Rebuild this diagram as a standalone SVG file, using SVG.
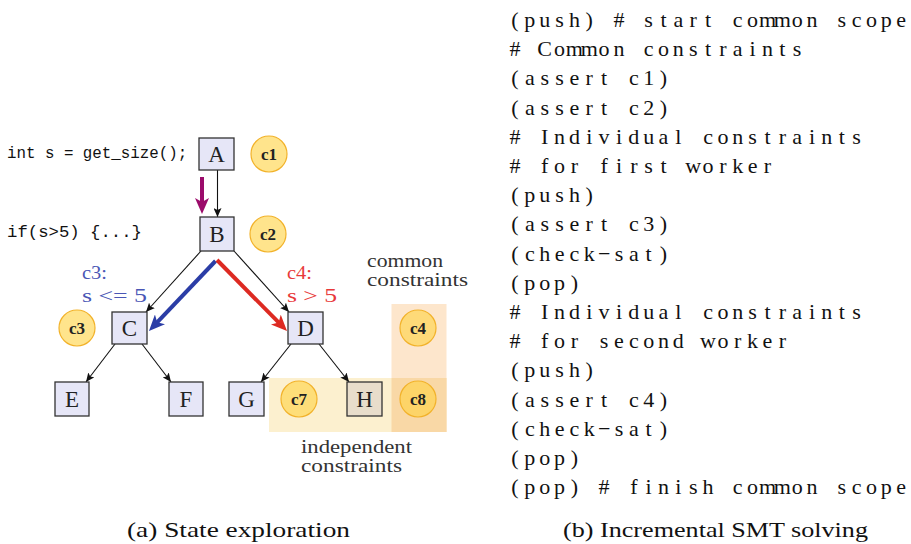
<svg xmlns="http://www.w3.org/2000/svg" width="911" height="544" viewBox="0 0 911 544">
<style>
.mono{font-size:15.8px;fill:#111;}
.box{fill:#E6E6F7;stroke:#333;stroke-width:1.3;}
.nl{font-size:23px;fill:#222;text-anchor:middle;}
.cc{fill:#FFD23F;fill-opacity:0.6;stroke:#F2B22A;stroke-width:1.2;}
.cl{font-size:17px;font-weight:bold;fill:#222;text-anchor:middle;}
.edge{stroke:#111;stroke-width:1.1;fill:none;marker-end:url(#ah);}
.lst{font-size:22px;fill:#111;text-anchor:middle;}
.note{font-size:18px;fill:#333;}
.cap{font-size:22px;fill:#111;}
</style>
<defs>
<marker id="ah" markerUnits="userSpaceOnUse" markerWidth="10" markerHeight="8" refX="9" refY="4" orient="auto"><path d="M0,0 L9,4 L0,8 L2,4 z" fill="#111"/></marker>
<marker id="ap" markerUnits="userSpaceOnUse" markerWidth="17" markerHeight="14" refX="10" refY="7" orient="auto"><path d="M0,0 L16,7 L0,14 L4,7 z" fill="#9B0B6B"/></marker>
<marker id="ab" markerUnits="userSpaceOnUse" markerWidth="17" markerHeight="14" refX="10" refY="7" orient="auto"><path d="M0,0 L16,7 L0,14 L4,7 z" fill="#2B3DA6"/></marker>
<marker id="ar" markerUnits="userSpaceOnUse" markerWidth="17" markerHeight="14" refX="10" refY="7" orient="auto"><path d="M0,0 L16,7 L0,14 L4,7 z" fill="#DD2A22"/></marker>
</defs>
<rect width="911" height="544" fill="#fff"/>

<g id="regions">
<rect x="391.5" y="304" width="55" height="128" fill="#FDE6CC"/>
<rect x="269" y="378" width="177.5" height="54" fill="#FCF0CF"/>
<rect x="391.5" y="378" width="55" height="54" fill="#F9D8A6"/>
</g>

<g id="code-left" font-family="Liberation Mono, Courier New, monospace">
<text class="mono" x="7" y="158">int s = get_size();</text>
<text class="mono" x="7" y="237" textLength="135" lengthAdjust="spacingAndGlyphs">if(s&gt;5) {...}</text>
</g>

<g id="connectors">
<line class="edge" x1="217.5" y1="170" x2="217.5" y2="217"/>
<line class="edge" x1="201" y1="251" x2="146" y2="312"/>
<line class="edge" x1="234" y1="251" x2="289" y2="312"/>
<line class="edge" x1="115" y1="344" x2="86" y2="382"/>
<line class="edge" x1="142" y1="344" x2="171" y2="382"/>
<line class="edge" x1="291" y1="344" x2="261" y2="382"/>
<line class="edge" x1="319" y1="344" x2="349" y2="382"/>
<line x1="202" y1="177" x2="202" y2="208" stroke="#9B0B6B" stroke-width="4" marker-end="url(#ap)"/>
<line x1="215.5" y1="261" x2="153.1" y2="326.6" stroke="#2B3DA6" stroke-width="4" marker-end="url(#ab)"/>
<line x1="217" y1="260" x2="282.8" y2="326.7" stroke="#DD2A22" stroke-width="4" marker-end="url(#ar)"/>
</g>

<g id="nodes" font-family="Liberation Serif, Times New Roman, serif">
<g id="node-A"><rect class="box" x="199" y="138" width="35" height="32"/><text class="nl" x="216.5" y="162">A</text></g>
<g id="node-B"><rect class="box" x="200" y="217" width="34" height="34"/><text class="nl" x="217" y="242">B</text></g>
<g id="node-C"><rect class="box" x="112" y="312" width="35" height="32"/><text class="nl" x="129.5" y="336">C</text></g>
<g id="node-D"><rect class="box" x="288" y="312" width="35" height="32"/><text class="nl" x="305.5" y="336">D</text></g>
<g id="node-E"><rect class="box" x="55" y="382" width="34" height="34"/><text class="nl" x="72" y="407">E</text></g>
<g id="node-F"><rect class="box" x="169" y="382" width="34" height="34"/><text class="nl" x="186" y="407">F</text></g>
<g id="node-G"><rect class="box" x="229" y="382" width="35" height="34"/><text class="nl" x="246.5" y="407">G</text></g>
<g id="node-H"><rect class="box" x="347" y="382" width="35" height="34" style="fill:#E8DDCB"/><text class="nl" x="364.5" y="407">H</text></g>

<g id="c1"><circle class="cc" cx="269" cy="154" r="18"/><text class="cl" x="269" y="160">c1</text></g>
<g id="c2"><circle class="cc" cx="268" cy="234" r="18"/><text class="cl" x="268" y="240">c2</text></g>
<g id="c3"><circle class="cc" cx="77" cy="328" r="18"/><text class="cl" x="77" y="334">c3</text></g>
<g id="c4"><circle class="cc" cx="418" cy="328" r="18"/><text class="cl" x="418" y="334">c4</text></g>
<g id="c7"><circle class="cc" cx="299" cy="399" r="18"/><text class="cl" x="299" y="405">c7</text></g>
<g id="c8"><circle class="cc" cx="418" cy="399" r="18"/><text class="cl" x="418" y="405">c8</text></g>
</g>

<g id="labels" font-family="Liberation Serif, Times New Roman, serif">
<text x="82" y="279" font-size="19" fill="#4A56B5" textLength="25" lengthAdjust="spacingAndGlyphs">c3:</text>
<text x="82" y="301.5" font-size="19" fill="#4A56B5" textLength="65" lengthAdjust="spacingAndGlyphs">s &lt;= 5</text>
<text x="287" y="279" font-size="19" fill="#E8393A" textLength="25" lengthAdjust="spacingAndGlyphs">c4:</text>
<text x="287" y="301.5" font-size="19" fill="#E8393A" textLength="50" lengthAdjust="spacingAndGlyphs">s &gt; 5</text>
<text class="note" x="367" y="266.5" textLength="76" lengthAdjust="spacingAndGlyphs">common</text>
<text class="note" x="367" y="285.5" textLength="101" lengthAdjust="spacingAndGlyphs">constraints</text>
<text class="note" x="301" y="453" textLength="111" lengthAdjust="spacingAndGlyphs">independent</text>
<text class="note" x="301" y="472" textLength="101" lengthAdjust="spacingAndGlyphs">constraints</text>
</g>

<g id="listing" font-family="Liberation Serif, Times New Roman, serif">
<text class="lst" y="27" x="515 529.85 544.7 559.55 574.4 589.25 604.1 618.95 633.8 648.65 663.5 678.35 693.2 708.05 722.9 737.75 752.6 767.45 782.3 797.15 812 826.85 841.7 856.55 871.4 886.25 901.1">(push) # start common scope</text>
<text class="lst" y="56.2" x="515 529.85 544.7 559.55 574.4 589.25 604.1 618.95 633.8 648.65 663.5 678.35 693.2 708.05 722.9 737.75 752.6 767.45 782.3 797.15 812 826.85 841.7 856.55 871.4 886.25 901.1"># Common constraints</text>
<text class="lst" y="85.4" x="515 529.85 544.7 559.55 574.4 589.25 604.1 618.95 633.8 648.65 663.5 678.35 693.2 708.05 722.9 737.75 752.6 767.45 782.3 797.15 812 826.85 841.7 856.55 871.4 886.25 901.1">(assert c1)</text>
<text class="lst" y="114.6" x="515 529.85 544.7 559.55 574.4 589.25 604.1 618.95 633.8 648.65 663.5 678.35 693.2 708.05 722.9 737.75 752.6 767.45 782.3 797.15 812 826.85 841.7 856.55 871.4 886.25 901.1">(assert c2)</text>
<text class="lst" y="143.8" x="515 529.85 544.7 559.55 574.4 589.25 604.1 618.95 633.8 648.65 663.5 678.35 693.2 708.05 722.9 737.75 752.6 767.45 782.3 797.15 812 826.85 841.7 856.55 871.4 886.25 901.1"># Individual constraints</text>
<text class="lst" y="173" x="515 529.85 544.7 559.55 574.4 589.25 604.1 618.95 633.8 648.65 663.5 678.35 693.2 708.05 722.9 737.75 752.6 767.45 782.3 797.15 812 826.85 841.7 856.55 871.4 886.25 901.1"># for first worker</text>
<text class="lst" y="202.2" x="515 529.85 544.7 559.55 574.4 589.25 604.1 618.95 633.8 648.65 663.5 678.35 693.2 708.05 722.9 737.75 752.6 767.45 782.3 797.15 812 826.85 841.7 856.55 871.4 886.25 901.1">(push)</text>
<text class="lst" y="231.4" x="515 529.85 544.7 559.55 574.4 589.25 604.1 618.95 633.8 648.65 663.5 678.35 693.2 708.05 722.9 737.75 752.6 767.45 782.3 797.15 812 826.85 841.7 856.55 871.4 886.25 901.1">(assert c3)</text>
<text class="lst" y="260.6" x="515 529.85 544.7 559.55 574.4 589.25 604.1 618.95 633.8 648.65 663.5 678.35 693.2 708.05 722.9 737.75 752.6 767.45 782.3 797.15 812 826.85 841.7 856.55 871.4 886.25 901.1">(check−sat)</text>
<text class="lst" y="289.8" x="515 529.85 544.7 559.55 574.4 589.25 604.1 618.95 633.8 648.65 663.5 678.35 693.2 708.05 722.9 737.75 752.6 767.45 782.3 797.15 812 826.85 841.7 856.55 871.4 886.25 901.1">(pop)</text>
<text class="lst" y="319" x="515 529.85 544.7 559.55 574.4 589.25 604.1 618.95 633.8 648.65 663.5 678.35 693.2 708.05 722.9 737.75 752.6 767.45 782.3 797.15 812 826.85 841.7 856.55 871.4 886.25 901.1"># Individual constraints</text>
<text class="lst" y="348.2" x="515 529.85 544.7 559.55 574.4 589.25 604.1 618.95 633.8 648.65 663.5 678.35 693.2 708.05 722.9 737.75 752.6 767.45 782.3 797.15 812 826.85 841.7 856.55 871.4 886.25 901.1"># for second worker</text>
<text class="lst" y="377.4" x="515 529.85 544.7 559.55 574.4 589.25 604.1 618.95 633.8 648.65 663.5 678.35 693.2 708.05 722.9 737.75 752.6 767.45 782.3 797.15 812 826.85 841.7 856.55 871.4 886.25 901.1">(push)</text>
<text class="lst" y="406.6" x="515 529.85 544.7 559.55 574.4 589.25 604.1 618.95 633.8 648.65 663.5 678.35 693.2 708.05 722.9 737.75 752.6 767.45 782.3 797.15 812 826.85 841.7 856.55 871.4 886.25 901.1">(assert c4)</text>
<text class="lst" y="435.8" x="515 529.85 544.7 559.55 574.4 589.25 604.1 618.95 633.8 648.65 663.5 678.35 693.2 708.05 722.9 737.75 752.6 767.45 782.3 797.15 812 826.85 841.7 856.55 871.4 886.25 901.1">(check−sat)</text>
<text class="lst" y="465" x="515 529.85 544.7 559.55 574.4 589.25 604.1 618.95 633.8 648.65 663.5 678.35 693.2 708.05 722.9 737.75 752.6 767.45 782.3 797.15 812 826.85 841.7 856.55 871.4 886.25 901.1">(pop)</text>
<text class="lst" y="494.2" x="515 529.85 544.7 559.55 574.4 589.25 604.1 618.95 633.8 648.65 663.5 678.35 693.2 708.05 722.9 737.75 752.6 767.45 782.3 797.15 812 826.85 841.7 856.55 871.4 886.25 901.1">(pop) # finish common scope</text>
</g>

<g id="captions" font-family="Liberation Serif, Times New Roman, serif">
<text class="cap" x="127" y="537" textLength="223" lengthAdjust="spacingAndGlyphs">(a) State exploration</text>
<text class="cap" x="563" y="537" textLength="305" lengthAdjust="spacingAndGlyphs">(b) Incremental SMT solving</text>
</g>
</svg>
